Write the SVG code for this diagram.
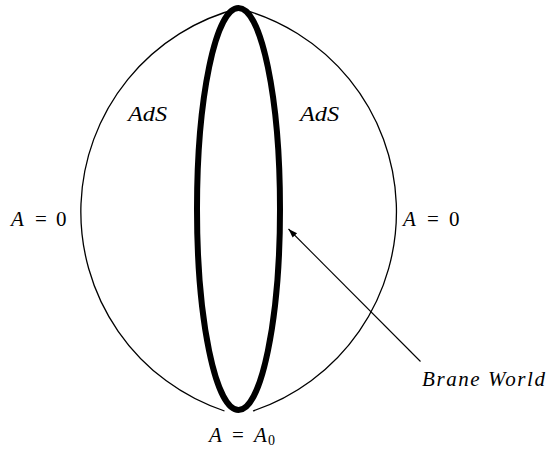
<svg xmlns="http://www.w3.org/2000/svg" width="546" height="452" viewBox="0 0 546 452">
<style>
.thin{fill:none;stroke:#000;stroke-width:1.3}
.thick{fill:none;stroke:#000;stroke-width:6}
.lbl{font-size:21px;fill:#000}
.it{font-style:italic}
</style>
<defs>
<marker id="ah" viewBox="0 0 10 10" refX="10" refY="5" markerWidth="9" markerHeight="9" markerUnits="userSpaceOnUse" orient="auto">
<path d="M0,1.5 L10,5 L0,8.5 Z" fill="#000"/>
</marker>
</defs>
<rect width="546" height="452" fill="#fff"/>
<g id="boundary">
<path class="thin" d="M240,8 A210,210 0 0 0 224.5,411"/>
<path class="thin" d="M237,8 A210,210 0 0 1 253,411"/>
</g>
<g id="brane">
<ellipse class="thick" cx="238.5" cy="209" rx="41.5" ry="201"/>
</g>
<g id="connectors">
<line x1="420.5" y1="361.5" x2="288.5" y2="229" stroke="#000" stroke-width="1.1" marker-end="url(#ah)"/>
</g>
<g id="labels" font-family="Liberation Serif, serif">
<text class="lbl it" x="128" y="121" textLength="39" lengthAdjust="spacingAndGlyphs">AdS</text>
<text class="lbl it" x="300" y="121" textLength="39" lengthAdjust="spacingAndGlyphs">AdS</text>
<text class="lbl" x="11" y="226"><tspan class="it">A</tspan><tspan x="35">=</tspan><tspan x="56">0</tspan></text>
<text class="lbl" x="403" y="226"><tspan class="it">A</tspan><tspan x="427">=</tspan><tspan x="449">0</tspan></text>
<text class="lbl" x="209" y="442"><tspan class="it">A</tspan><tspan x="232">=</tspan><tspan x="254" class="it">A</tspan><tspan x="268" y="445" font-size="14">0</tspan></text>
<text class="lbl it" x="422" y="386" textLength="123" lengthAdjust="spacing">Brane  World</text>
</g>
</svg>
